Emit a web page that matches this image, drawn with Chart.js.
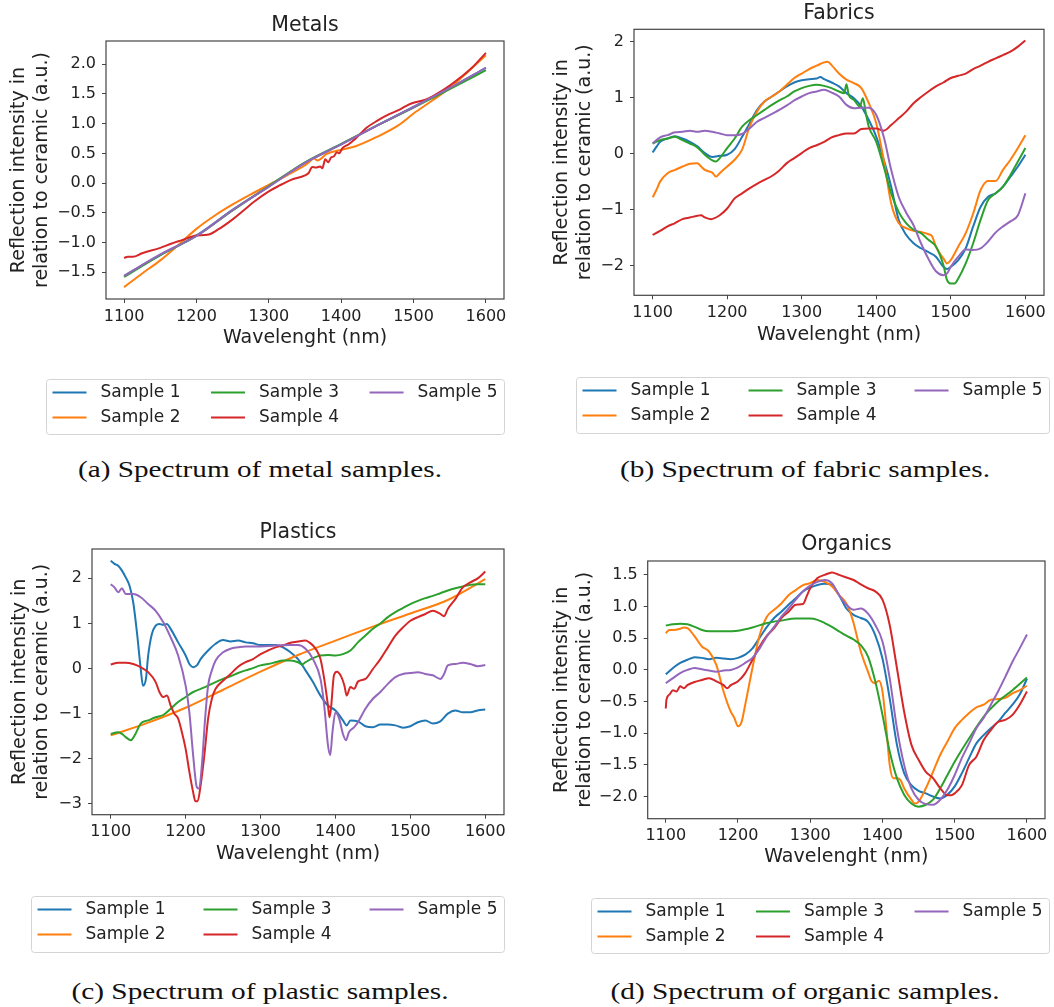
<!DOCTYPE html>
<html>
<head>
<meta charset="utf-8">
<title>Reflection spectra</title>
<script src="https://cdn.jsdelivr.net/npm/chart.js@4.4.1/dist/chart.umd.min.js"></script>
<style>
  html, body { margin: 0; padding: 0; background: #fff; }
  body { width: 1054px; height: 1007px; position: relative; overflow: hidden; }
  .panel { position: absolute; }
  .caption {
    position: absolute; white-space: nowrap; color: #111;
    font-family: "Liberation Serif", serif; font-size: 23px;
    transform: translate(-50%, -50%);
  }
</style>
</head>
<body>
<div class="panel" style="left:0;top:0;width:527px;height:445px"><canvas id="metals"></canvas></div>
<div class="panel" style="left:527px;top:0;width:527px;height:445px"><canvas id="fabrics"></canvas></div>
<div class="panel" style="left:0;top:500px;width:527px;height:465px"><canvas id="plastics"></canvas></div>
<div class="panel" style="left:527px;top:500px;width:527px;height:465px"><canvas id="organics"></canvas></div>

<div class="caption" data-w="364" style="left:260px;top:470px">(a) Spectrum of metal samples.</div>
<div class="caption" data-w="370" style="left:805px;top:470px">(b) Spectrum of fabric samples.</div>
<div class="caption" data-w="377" style="left:260px;top:992px">(c) Spectrum of plastic samples.</div>
<div class="caption" data-w="389" style="left:805px;top:992px">(d) Spectrum of organic samples.</div>

<script>
// wavelength ticks shared by every panel
const xTicks = [1100, 1200, 1300, 1400, 1500, 1600];
const sampleNames = ['Sample 1', 'Sample 2', 'Sample 3', 'Sample 4', 'Sample 5'];
const colors = ['#1f77b4', '#ff7f0e', '#2ca02c', '#d62728', '#9467bd'];

// ---- metals: [wavelength nm, relative intensity]
const metalS1 = [[1100,-1.56],[1150,-1.21],[1200,-0.88],[1250,-0.45],[1300,-0.06],[1350,0.34],[1400,0.65],[1450,0.97],[1500,1.28],[1550,1.60],[1600,1.94]];
const metalS2 = [[1100,-1.75],[1125,-1.52],[1150,-1.30],[1175,-1.04],[1200,-0.77],[1225,-0.55],[1250,-0.36],[1275,-0.19],[1300,-0.03],[1325,0.13],[1350,0.30],[1358,0.38],[1362,0.42],[1367,0.38],[1380,0.49],[1400,0.56],[1420,0.62],[1450,0.78],[1480,0.98],[1500,1.17],[1525,1.38],[1550,1.60],[1575,1.87],[1600,2.15]];
const metalS3 = [[1100,-1.58],[1150,-1.21],[1200,-0.89],[1250,-0.46],[1300,-0.05],[1350,0.35],[1400,0.66],[1450,0.97],[1500,1.27],[1550,1.58],[1600,1.90]];
const metalS4 = [[1100,-1.26],[1105,-1.24],[1112,-1.24],[1125,-1.18],[1150,-1.09],[1165,-1.02],[1180,-0.96],[1200,-0.88],[1215,-0.87],[1230,-0.78],[1250,-0.61],[1265,-0.46],[1280,-0.31],[1300,-0.14],[1315,-0.04],[1330,0.05],[1350,0.13],[1355,0.17],[1360,0.27],[1365,0.26],[1371,0.28],[1374,0.25],[1378,0.40],[1382,0.35],[1386,0.43],[1390,0.45],[1394,0.52],[1397,0.50],[1402,0.59],[1410,0.65],[1420,0.75],[1435,0.93],[1450,1.05],[1465,1.15],[1480,1.23],[1490,1.30],[1500,1.35],[1510,1.38],[1520,1.42],[1535,1.52],[1550,1.64],[1565,1.78],[1580,1.93],[1600,2.19]];
const metalS5 = [[1100,-1.56],[1150,-1.20],[1200,-0.89],[1250,-0.45],[1300,-0.06],[1350,0.34],[1400,0.65],[1450,0.97],[1500,1.28],[1550,1.60],[1600,1.94]];

// ---- fabrics
const fabricS1 = [[1100,0.02],[1105,0.12],[1110,0.21],[1120,0.27],[1130,0.31],[1140,0.27],[1150,0.21],[1160,0.13],[1170,0.01],[1180,-0.06],[1190,-0.04],[1200,-0.02],[1210,0.08],[1220,0.30],[1230,0.54],[1240,0.78],[1250,0.93],[1260,1.02],[1270,1.11],[1280,1.20],[1290,1.27],[1300,1.31],[1310,1.33],[1320,1.34],[1325,1.37],[1330,1.33],[1340,1.27],[1350,1.20],[1360,1.08],[1370,0.99],[1380,0.84],[1390,0.60],[1400,0.30],[1410,-0.11],[1420,-0.59],[1430,-1.18],[1440,-1.45],[1450,-1.60],[1460,-1.69],[1470,-1.76],[1480,-1.84],[1490,-2.02],[1495,-2.06],[1500,-2.02],[1510,-1.90],[1520,-1.69],[1530,-1.30],[1540,-0.95],[1550,-0.77],[1560,-0.71],[1570,-0.59],[1580,-0.41],[1590,-0.23],[1600,-0.02]];
const fabricS2 = [[1100,-0.78],[1105,-0.65],[1110,-0.50],[1120,-0.35],[1130,-0.29],[1140,-0.23],[1150,-0.18],[1160,-0.17],[1165,-0.23],[1170,-0.29],[1180,-0.34],[1185,-0.41],[1190,-0.35],[1200,-0.23],[1210,-0.11],[1220,0.07],[1230,0.48],[1240,0.75],[1250,0.93],[1260,1.02],[1270,1.11],[1280,1.23],[1290,1.35],[1300,1.43],[1310,1.51],[1320,1.57],[1330,1.63],[1335,1.64],[1340,1.58],[1350,1.43],[1360,1.32],[1370,1.26],[1380,1.17],[1390,0.90],[1400,0.54],[1410,-0.11],[1420,-0.89],[1430,-1.24],[1440,-1.33],[1450,-1.38],[1460,-1.40],[1470,-1.44],[1475,-1.48],[1480,-1.66],[1490,-1.87],[1495,-1.96],[1500,-1.90],[1510,-1.66],[1520,-1.42],[1530,-1.07],[1540,-0.65],[1550,-0.49],[1560,-0.49],[1570,-0.29],[1580,-0.11],[1590,0.10],[1600,0.33]];
const fabricS3 = [[1100,0.18],[1110,0.24],[1120,0.27],[1130,0.30],[1140,0.24],[1150,0.18],[1160,0.11],[1170,-0.02],[1180,-0.12],[1185,-0.14],[1190,-0.08],[1200,0.10],[1210,0.27],[1220,0.48],[1230,0.60],[1240,0.69],[1250,0.78],[1260,0.87],[1270,0.95],[1280,1.02],[1290,1.11],[1300,1.17],[1310,1.21],[1320,1.23],[1330,1.21],[1340,1.17],[1350,1.11],[1357,1.08],[1360,1.24],[1363,1.05],[1370,0.96],[1378,0.84],[1382,0.99],[1386,0.72],[1390,0.48],[1400,0.21],[1410,-0.23],[1420,-0.71],[1430,-1.04],[1440,-1.24],[1450,-1.36],[1460,-1.42],[1470,-1.54],[1480,-1.66],[1490,-1.99],[1495,-2.26],[1500,-2.32],[1505,-2.32],[1510,-2.23],[1520,-1.96],[1530,-1.60],[1540,-1.18],[1550,-0.83],[1560,-0.71],[1570,-0.59],[1580,-0.38],[1590,-0.14],[1600,0.10]];
const fabricS4 = [[1100,-1.45],[1110,-1.38],[1120,-1.30],[1130,-1.24],[1140,-1.17],[1150,-1.14],[1160,-1.11],[1165,-1.10],[1170,-1.14],[1178,-1.17],[1190,-1.10],[1200,-0.98],[1210,-0.80],[1220,-0.71],[1230,-0.62],[1240,-0.54],[1250,-0.47],[1260,-0.40],[1270,-0.30],[1280,-0.17],[1290,-0.08],[1300,0.01],[1310,0.10],[1320,0.15],[1330,0.21],[1340,0.29],[1350,0.33],[1360,0.36],[1370,0.36],[1380,0.44],[1390,0.45],[1400,0.45],[1410,0.41],[1420,0.51],[1430,0.63],[1440,0.75],[1450,0.90],[1460,1.01],[1470,1.11],[1480,1.20],[1490,1.27],[1500,1.35],[1510,1.39],[1520,1.43],[1530,1.51],[1540,1.57],[1550,1.64],[1560,1.70],[1570,1.76],[1580,1.82],[1590,1.91],[1600,2.02]];
const fabricS5 = [[1100,0.18],[1110,0.29],[1120,0.33],[1130,0.38],[1140,0.39],[1150,0.41],[1160,0.39],[1170,0.41],[1180,0.39],[1190,0.36],[1200,0.33],[1210,0.33],[1220,0.35],[1230,0.45],[1240,0.57],[1250,0.64],[1260,0.71],[1270,0.78],[1280,0.86],[1290,0.95],[1300,1.02],[1310,1.08],[1320,1.11],[1330,1.14],[1340,1.09],[1350,1.02],[1360,0.87],[1370,0.81],[1380,0.82],[1390,0.82],[1400,0.69],[1410,0.30],[1420,-0.29],[1430,-0.77],[1440,-1.05],[1450,-1.28],[1460,-1.60],[1470,-1.88],[1480,-2.10],[1490,-2.17],[1495,-2.14],[1500,-2.02],[1510,-1.84],[1520,-1.71],[1530,-1.72],[1540,-1.69],[1550,-1.57],[1560,-1.41],[1570,-1.30],[1580,-1.21],[1590,-1.10],[1600,-0.71]];

// ---- plastics
const plasticS1 = [[1100,2.39],[1105,2.32],[1110,2.28],[1115,2.17],[1120,2.02],[1125,1.84],[1130,1.47],[1135,0.80],[1140,0.00],[1143,-0.38],[1147,-0.23],[1150,0.29],[1155,0.77],[1160,0.95],[1165,0.99],[1170,0.97],[1175,0.99],[1180,0.88],[1190,0.58],[1200,0.29],[1205,0.10],[1210,0.03],[1215,0.07],[1220,0.21],[1230,0.40],[1240,0.55],[1250,0.63],[1260,0.60],[1270,0.62],[1280,0.58],[1290,0.56],[1300,0.52],[1310,0.52],[1320,0.52],[1330,0.47],[1340,0.36],[1350,0.21],[1360,-0.04],[1370,-0.30],[1380,-0.60],[1390,-0.82],[1400,-0.93],[1410,-1.15],[1415,-1.26],[1420,-1.15],[1430,-1.17],[1440,-1.28],[1450,-1.30],[1460,-1.24],[1470,-1.24],[1480,-1.26],[1490,-1.31],[1500,-1.28],[1510,-1.19],[1520,-1.15],[1530,-1.22],[1540,-1.17],[1550,-1.00],[1560,-0.93],[1570,-0.97],[1580,-0.97],[1590,-0.93],[1600,-0.91]];
const plasticS2 = [[1100,-1.48],[1150,-1.20],[1200,-0.87],[1250,-0.47],[1300,-0.07],[1350,0.30],[1400,0.62],[1450,0.93],[1500,1.22],[1550,1.52],[1600,1.98]];
const plasticS3 = [[1100,-1.45],[1110,-1.41],[1115,-1.45],[1120,-1.52],[1127,-1.59],[1132,-1.48],[1140,-1.22],[1150,-1.15],[1160,-1.08],[1170,-1.03],[1180,-0.89],[1190,-0.74],[1200,-0.63],[1210,-0.52],[1220,-0.45],[1230,-0.38],[1240,-0.30],[1250,-0.23],[1260,-0.17],[1270,-0.10],[1280,-0.04],[1290,0.01],[1300,0.07],[1310,0.10],[1320,0.14],[1330,0.18],[1340,0.18],[1350,0.14],[1355,0.09],[1360,0.14],[1370,0.23],[1380,0.29],[1390,0.30],[1400,0.29],[1410,0.32],[1420,0.40],[1430,0.58],[1440,0.73],[1450,0.88],[1460,1.00],[1470,1.14],[1480,1.25],[1490,1.34],[1500,1.43],[1510,1.50],[1520,1.56],[1530,1.61],[1540,1.67],[1550,1.73],[1560,1.78],[1570,1.82],[1580,1.86],[1590,1.87],[1600,1.87]];
const plasticS4 = [[1100,0.09],[1110,0.13],[1120,0.13],[1130,0.10],[1140,0.03],[1150,-0.08],[1160,-0.30],[1165,-0.52],[1170,-0.63],[1175,-0.60],[1180,-0.82],[1185,-1.00],[1190,-1.11],[1195,-1.41],[1200,-1.78],[1205,-2.29],[1210,-2.74],[1213,-2.94],[1216,-2.94],[1220,-2.59],[1225,-1.92],[1230,-1.11],[1235,-0.67],[1240,-0.45],[1250,-0.27],[1260,-0.12],[1270,0.04],[1280,0.14],[1290,0.21],[1300,0.32],[1310,0.40],[1320,0.47],[1330,0.51],[1340,0.57],[1350,0.60],[1360,0.62],[1365,0.58],[1370,0.51],[1375,0.40],[1380,0.21],[1385,-0.23],[1390,-0.82],[1392,-1.08],[1394,-0.89],[1398,-0.15],[1402,-0.07],[1408,-0.19],[1412,-0.38],[1415,-0.60],[1420,-0.41],[1425,-0.45],[1430,-0.29],[1440,-0.23],[1450,-0.01],[1460,0.21],[1470,0.47],[1480,0.73],[1490,0.91],[1500,1.06],[1510,1.14],[1520,1.21],[1530,1.28],[1540,1.21],[1545,1.16],[1550,1.32],[1560,1.54],[1570,1.80],[1580,1.91],[1590,2.00],[1600,2.15]];
const plasticS5 = [[1100,1.87],[1105,1.80],[1110,1.69],[1115,1.78],[1120,1.65],[1130,1.65],[1140,1.58],[1150,1.43],[1160,1.28],[1170,1.03],[1180,0.69],[1190,0.29],[1200,-0.38],[1205,-0.97],[1210,-1.92],[1215,-2.63],[1218,-2.66],[1222,-2.07],[1226,-1.11],[1230,-0.38],[1235,-0.04],[1240,0.18],[1250,0.36],[1260,0.44],[1270,0.47],[1280,0.49],[1300,0.49],[1320,0.51],[1340,0.52],[1350,0.52],[1360,0.44],[1370,0.21],[1380,-0.23],[1385,-0.82],[1390,-1.70],[1393,-1.92],[1396,-1.41],[1400,-0.97],[1405,-1.11],[1410,-1.45],[1414,-1.59],[1418,-1.41],[1425,-1.30],[1430,-1.19],[1440,-0.89],[1450,-0.67],[1460,-0.52],[1470,-0.34],[1480,-0.19],[1490,-0.12],[1500,-0.10],[1510,-0.08],[1520,-0.12],[1530,-0.15],[1540,-0.23],[1545,-0.12],[1550,0.07],[1560,0.10],[1570,0.13],[1580,0.10],[1590,0.05],[1600,0.08]];

// ---- organics
const organicS1 = [[1100,-0.07],[1110,0.03],[1120,0.11],[1130,0.16],[1140,0.20],[1150,0.19],[1160,0.17],[1170,0.19],[1180,0.18],[1190,0.17],[1200,0.19],[1210,0.24],[1220,0.34],[1230,0.51],[1240,0.68],[1250,0.82],[1260,0.92],[1270,1.03],[1280,1.13],[1290,1.24],[1300,1.30],[1310,1.34],[1320,1.36],[1330,1.34],[1340,1.18],[1350,0.97],[1360,0.87],[1370,0.82],[1380,0.76],[1390,0.55],[1400,0.18],[1410,-0.45],[1420,-1.18],[1430,-1.63],[1440,-1.82],[1450,-1.91],[1460,-1.95],[1470,-2.00],[1480,-2.03],[1490,-1.97],[1500,-1.84],[1510,-1.63],[1520,-1.39],[1530,-1.16],[1540,-1.03],[1550,-0.92],[1560,-0.82],[1570,-0.68],[1580,-0.55],[1590,-0.39],[1600,-0.14]];
const organicS2 = [[1100,0.58],[1105,0.63],[1110,0.63],[1120,0.65],[1125,0.67],[1130,0.66],[1140,0.53],[1150,0.37],[1160,0.29],[1170,0.08],[1180,-0.34],[1190,-0.66],[1195,-0.76],[1200,-0.89],[1205,-0.82],[1210,-0.55],[1220,0.03],[1230,0.55],[1240,0.84],[1250,0.95],[1260,1.05],[1270,1.18],[1280,1.26],[1290,1.34],[1300,1.37],[1310,1.42],[1320,1.39],[1330,1.32],[1340,1.18],[1350,1.05],[1355,0.92],[1360,0.74],[1370,0.29],[1380,-0.03],[1385,-0.18],[1390,-0.21],[1395,-0.17],[1400,-0.34],[1405,-0.87],[1410,-1.50],[1415,-1.71],[1420,-1.71],[1425,-1.74],[1430,-1.87],[1440,-2.05],[1445,-2.11],[1450,-2.08],[1460,-1.87],[1470,-1.61],[1480,-1.34],[1490,-1.13],[1500,-0.92],[1510,-0.79],[1520,-0.68],[1530,-0.59],[1540,-0.55],[1550,-0.47],[1560,-0.46],[1570,-0.44],[1580,-0.37],[1590,-0.32],[1600,-0.25]];
const organicS3 = [[1100,0.70],[1110,0.72],[1120,0.73],[1130,0.72],[1140,0.68],[1150,0.63],[1160,0.61],[1180,0.61],[1200,0.62],[1220,0.67],[1240,0.74],[1260,0.78],[1280,0.81],[1300,0.81],[1310,0.79],[1320,0.74],[1330,0.68],[1340,0.61],[1350,0.54],[1360,0.48],[1370,0.39],[1380,0.21],[1390,-0.18],[1400,-0.71],[1410,-1.29],[1420,-1.71],[1430,-1.97],[1440,-2.11],[1450,-2.16],[1460,-2.13],[1470,-2.05],[1480,-1.87],[1490,-1.66],[1500,-1.45],[1520,-1.08],[1540,-0.74],[1560,-0.50],[1580,-0.32],[1600,-0.12]];
const organicS4 = [[1100,-0.61],[1101,-0.47],[1105,-0.39],[1110,-0.32],[1115,-0.34],[1120,-0.26],[1125,-0.29],[1130,-0.24],[1140,-0.19],[1150,-0.16],[1160,-0.13],[1170,-0.18],[1180,-0.24],[1185,-0.29],[1190,-0.24],[1200,-0.18],[1210,-0.05],[1220,0.16],[1230,0.37],[1240,0.54],[1250,0.66],[1260,0.82],[1270,0.92],[1280,1.03],[1290,1.04],[1295,1.16],[1300,1.29],[1310,1.45],[1320,1.50],[1330,1.54],[1340,1.50],[1350,1.46],[1360,1.42],[1370,1.35],[1380,1.29],[1390,1.24],[1400,1.11],[1410,0.71],[1420,0.03],[1430,-0.66],[1440,-1.18],[1450,-1.42],[1460,-1.61],[1470,-1.71],[1480,-1.87],[1490,-1.98],[1495,-1.98],[1500,-1.95],[1510,-1.82],[1520,-1.50],[1530,-1.37],[1540,-1.11],[1550,-0.95],[1560,-0.82],[1570,-0.79],[1580,-0.71],[1590,-0.55],[1600,-0.34]];
const organicS5 = [[1100,-0.21],[1110,-0.13],[1120,-0.05],[1130,0.00],[1140,0.03],[1150,0.01],[1160,-0.01],[1170,-0.03],[1180,-0.01],[1190,0.00],[1200,0.04],[1210,0.11],[1220,0.19],[1230,0.34],[1240,0.53],[1250,0.68],[1260,0.84],[1270,0.97],[1280,1.11],[1290,1.24],[1300,1.33],[1310,1.39],[1320,1.42],[1330,1.37],[1340,1.18],[1350,1.03],[1360,0.95],[1370,0.97],[1380,0.89],[1390,0.71],[1400,0.45],[1410,-0.13],[1420,-0.92],[1430,-1.50],[1440,-1.87],[1450,-2.05],[1460,-2.12],[1470,-2.13],[1480,-2.05],[1490,-1.89],[1500,-1.66],[1510,-1.39],[1520,-1.16],[1530,-0.92],[1540,-0.76],[1550,-0.55],[1560,-0.34],[1570,-0.11],[1580,0.13],[1590,0.34],[1600,0.56]];

const metalTicks = [-1.5, -1.0, -0.5, 0.0, 0.5, 1.0, 1.5, 2.0];
const fabricTicks = [-2, -1, 0, 1, 2];
const plasticTicks = [-3, -2, -1, 0, 1, 2];
const organicTicks = [-2.0, -1.5, -1.0, -0.5, 0.0, 0.5, 1.0, 1.5];

const FONT = '"DejaVu Sans", sans-serif';
const INK = '#222';
const yLabel = ['Reflection intensity in', 'relation to ceramic (a.u.)'];

// thin dark frame around the plotting area
const framePlugin = {
  id: 'frame',
  afterDatasetsDraw(chart) {
    const { ctx, chartArea: a } = chart;
    ctx.save();
    ctx.strokeStyle = '#444';
    ctx.lineWidth = 1.2;
    ctx.strokeRect(a.left, a.top, a.right - a.left, a.bottom - a.top);
    ctx.restore();
  }
};

// boxed legend below the axis, three columns filled top to bottom
const boxLegend = {
  id: 'boxLegend',
  afterDraw(chart, args, opts) {
    const { ctx } = chart;
    const { x, y, w, h } = opts;
    ctx.save();
    ctx.beginPath();
    ctx.roundRect(x + 0.5, y + 0.5, w, h, 3);
    ctx.fillStyle = 'rgba(255,255,255,0.85)';
    ctx.fill();
    ctx.strokeStyle = '#d4d4d4';
    ctx.lineWidth = 1;
    ctx.stroke();
    ctx.font = '17px ' + FONT;
    const pad = 6.5, handle = 34, gap = 14;
    const sets = chart.data.datasets;
    const textW = Math.max(...sets.map(d => ctx.measureText(d.label).width));
    const step = (w - 2 * pad - handle - gap - textW) / 2;
    sets.forEach((d, i) => {
      const hx = x + pad + Math.floor(i / 2) * step;
      const cy = y + 13.5 + (i % 2) * 25;
      ctx.strokeStyle = d.borderColor;
      ctx.lineWidth = 2;
      ctx.beginPath();
      ctx.moveTo(hx, cy);
      ctx.lineTo(hx + handle, cy);
      ctx.stroke();
      ctx.fillStyle = INK;
      ctx.textBaseline = 'middle';
      ctx.fillText(d.label, hx + handle + gap, cy);
    });
    ctx.restore();
  }
};

function fmt(v, digits) {
  return (digits ? v.toFixed(digits) : String(v)).replace('-', '\u2212');
}

function makePanel(id, title, series, yMin, yMax, yTicks, digits, box) {
  const tickGrid = { display: true, drawOnChartArea: false, drawTicks: true, tickLength: 4, color: '#444', lineWidth: 1 };
  return new Chart(document.getElementById(id), {
    type: 'line',
    data: {
      datasets: series.map((s, i) => ({
        label: sampleNames[i],
        data: s,
        borderColor: colors[i],
        backgroundColor: colors[i],
        borderWidth: 2,
        pointRadius: 0,
        cubicInterpolationMode: 'monotone',
        fill: false,
        order: series.length - 1 - i
      }))
    },
    options: {
      responsive: true,
      maintainAspectRatio: false,
      animation: false,
      events: [],
      layout: { padding: { left: box.padL, right: box.padR, top: 0, bottom: box.padB } },
      plugins: {
        legend: { display: false },
        tooltip: { enabled: false },
        title: {
          display: true, text: title, fullSize: false, color: INK,
          font: { family: FONT, size: 20.5, weight: 'normal', lineHeight: 1.2 },
          padding: { top: box.tTop, bottom: box.tBot }
        },
        boxLegend: box.legend
      },
      scales: {
        x: {
          type: 'linear', min: 1075, max: 1625,
          afterBuildTicks: s => { s.ticks = xTicks.map(v => ({ value: v })); },
          afterFit: s => { s.height = box.xH; },
          grid: tickGrid,
          border: { display: false },
          ticks: { color: INK, padding: 4, maxRotation: 0, font: { family: FONT, size: 16 }, callback: v => String(v) },
          title: { display: true, text: 'Wavelenght (nm)', color: INK, padding: 0, font: { family: FONT, size: 19, lineHeight: 1.2 } }
        },
        y: {
          type: 'linear', min: yMin, max: yMax,
          afterBuildTicks: s => { s.ticks = yTicks.map(v => ({ value: v })); },
          afterFit: s => { s.width = box.yW; },
          grid: tickGrid,
          border: { display: false },
          ticks: { color: INK, padding: 6, font: { family: FONT, size: 16 }, callback: v => fmt(v, digits) },
          title: { display: true, text: yLabel, color: INK, padding: 0, font: { family: FONT, size: 19, lineHeight: 1.2 } }
        }
      }
    },
    plugins: [framePlugin, boxLegend]
  });
}

makePanel('metals', 'Metals', [metalS1, metalS2, metalS3, metalS4, metalS5], -1.95, 2.39, metalTicks, 1,
  { padL: 8.1, yW: 97.9, padR: 23, tTop: 13.2, tBot: 3.2, xH: 50.9, padB: 95.1, legend: { x: 46, y: 379, w: 458, h: 55 } });
makePanel('fabrics', 'Fabrics', [fabricS1, fabricS2, fabricS3, fabricS4, fabricS5], -2.53, 2.22, fabricTicks, 0,
  { padL: 23.6, yW: 83.4, padR: 10, tTop: 1, tBot: 3.7, xH: 51.6, padB: 98.1, legend: { x: 49, y: 377, w: 473, h: 56 } });
makePanel('plastics', 'Plastics', [plasticS1, plasticS2, plasticS3, plasticS4, plasticS5], -3.24, 2.65, plasticTicks, 0,
  { padL: 8.3, yW: 83.7, padR: 23, tTop: 20.7, tBot: 3.7, xH: 50.4, padB: 99.9, legend: { x: 31, y: 396, w: 473, h: 56 } });
makePanel('organics', 'Organics', [organicS1, organicS2, organicS3, organicS4, organicS5], -2.35, 1.72, organicTicks, 1,
  { padL: 23.6, yW: 97.1, padR: 9, tTop: 32.7, tBot: 3.7, xH: 49.7, padB: 96.6, legend: { x: 64, y: 398, w: 458, h: 55 } });

// captions: stretch the serif text horizontally to its set width
const mctx = document.createElement('canvas').getContext('2d');
mctx.font = '23px "Liberation Serif"';
document.querySelectorAll('.caption').forEach(el => {
  const w = mctx.measureText(el.textContent).width;
  el.style.transform = 'translate(-50%, -50%) scaleX(' + (+el.dataset.w / w).toFixed(3) + ')';
});
</script>
</body>
</html>
